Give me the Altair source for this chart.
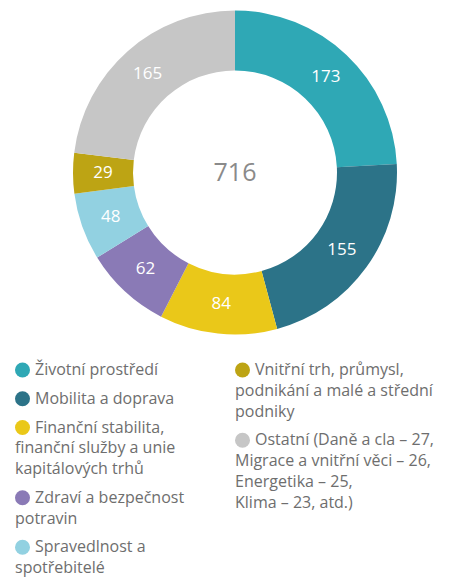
import altair as alt
import pandas as pd

FONT = "Open Sans"

categories = [
    "Životní prostředí",
    "Mobilita a doprava",
    "Finanční stabilita, finanční služby a unie kapitálových trhů",
    "Zdraví a bezpečnost potravin",
    "Spravedlnost a spotřebitelé",
    "Vnitřní trh, průmysl, podnikání a malé a střední podniky",
    "Ostatní (Daně a cla – 27, Migrace a vnitřní věci – 26, Energetika – 25, Klima – 23, atd.)",
]
values = [173, 155, 84, 62, 48, 29, 165]
colors = ["#2fa8b5", "#2c7388", "#eac819", "#8a7ab6", "#92d1e1", "#bda414", "#c6c6c6"]

legend_lines = [
    ["Životní prostředí"],
    ["Mobilita a doprava"],
    ["Finanční stabilita,", "finanční služby a unie", "kapitálových trhů"],
    ["Zdraví a bezpečnost", "potravin"],
    ["Spravedlnost a", "spotřebitelé"],
    ["Vnitřní trh, průmysl,", "podnikání a malé a střední", "podniky"],
    ["Ostatní (Daně a cla – 27,", "Migrace a vnitřní věci – 26,", "Energetika – 25,", "Klima – 23, atd.)"],
]
legend_column = [0, 0, 0, 0, 0, 1, 1]

donut = pd.DataFrame({"category": categories, "value": values, "order": list(range(len(values)))})

rows = []
line_count = {0: 0, 1: 0}
item_count = {0: 0, 1: 0}
for cat, lines, col in zip(categories, legend_lines, legend_column):
    for j, txt in enumerate(lines):
        rows.append({"category": cat, "col": col, "line": line_count[col],
                     "item": item_count[col], "first": j == 0, "text": txt})
        line_count[col] += 1
    item_count[col] += 1
legend = pd.DataFrame(rows)

W, H = 434, 570
CX, CY = 227, 164.5
color_scale = alt.Scale(domain=categories, range=colors)

arcs = alt.Chart(donut).mark_arc(outerRadius=162, innerRadius=102).encode(
    theta=alt.Theta("value:Q", stack=True),
    color=alt.Color("category:N", scale=color_scale, legend=None),
    order=alt.Order("order:Q"),
    x=alt.value(CX), y=alt.value(CY),
)

labels = alt.Chart(donut).mark_text(radius=132, fontSize=17, fill="white", font=FONT).encode(
    theta=alt.Theta("value:Q", stack=True),
    order=alt.Order("order:Q"),
    text=alt.Text("value:Q"),
    x=alt.value(CX), y=alt.value(CY),
)

center = alt.Chart(donut).transform_aggregate(total="sum(value)").mark_text(
    fontSize=25, fill="#8a8a8a", font=FONT
).encode(text=alt.Text("total:Q"), x=alt.value(CX), y=alt.value(CY))

xs = alt.Scale(domain=[0, W], range=[0, W], nice=False, zero=False)
ys = alt.Scale(domain=[0, H], range=[0, H], nice=False, zero=False)

leg_base = alt.Chart(legend).transform_calculate(
    px="datum.col * 220 + 7",
    py="datum.line * 20.75 + datum.item * 8 + 362",
)

markers = leg_base.transform_filter("datum.first").transform_calculate(
    cx="datum.px + 7.5"
).mark_point(shape="circle", filled=True, size=225, opacity=1).encode(
    x=alt.X("cx:Q", scale=xs, axis=None),
    y=alt.Y("py:Q", scale=ys, axis=None),
    color=alt.Color("category:N", scale=color_scale, legend=None),
)

first_text = leg_base.transform_filter("datum.first").mark_text(
    align="left", baseline="middle", dx=20, fontSize=16, fill="#6e6e6e", font=FONT
).encode(
    x=alt.X("px:Q", scale=xs, axis=None),
    y=alt.Y("py:Q", scale=ys, axis=None),
    text="text:N",
)

rest_text = leg_base.transform_filter("!datum.first").mark_text(
    align="left", baseline="middle", fontSize=16, fill="#6e6e6e", font=FONT
).encode(
    x=alt.X("px:Q", scale=xs, axis=None),
    y=alt.Y("py:Q", scale=ys, axis=None),
    text="text:N",
)

chart = alt.layer(arcs, labels, center, markers, first_text, rest_text).properties(
    width=W, height=H, padding=0, autosize="none"
).configure_view(stroke=None)

chart.save("out.html", embed_options={"renderer": "svg", "actions": False})
